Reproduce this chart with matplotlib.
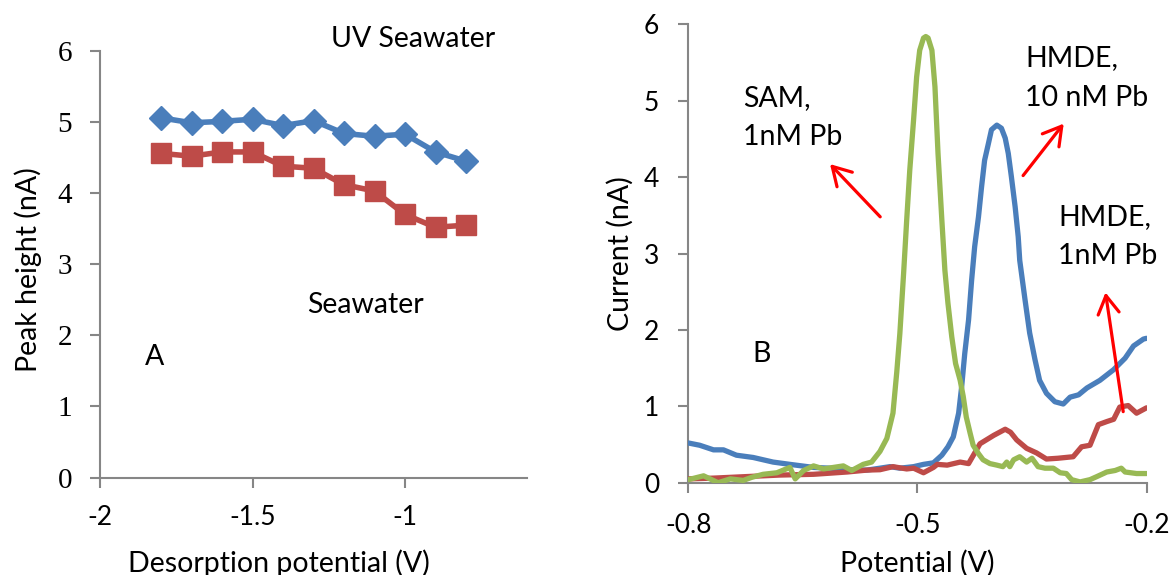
import matplotlib
matplotlib.use("Agg")
import matplotlib.pyplot as plt

# ---------------- Panel A data ----------------
desorption_v = [-1.8, -1.7, -1.6, -1.5, -1.4, -1.3, -1.2, -1.1, -1.0, -0.9, -0.8]
uv_seawater = [5.06, 4.99, 5.01, 5.04, 4.95, 5.02, 4.84, 4.80, 4.83, 4.58, 4.45]
seawater = [4.56, 4.52, 4.58, 4.58, 4.38, 4.35, 4.12, 4.03, 3.70, 3.52, 3.55]

# ---------------- Panel B data ----------------
hmde10_x = [-0.800, -0.785, -0.767, -0.754, -0.737, -0.715, -0.689, -0.667, -0.636, -0.614,
            -0.592, -0.566, -0.549, -0.536, -0.523, -0.505, -0.492, -0.479, -0.468, -0.460,
            -0.453, -0.446, -0.442, -0.438, -0.433, -0.429, -0.425, -0.420, -0.416, -0.412,
            -0.407, -0.403, -0.396, -0.390, -0.385, -0.381, -0.377, -0.372, -0.368, -0.366,
            -0.359, -0.353, -0.346, -0.340, -0.331, -0.320, -0.309, -0.300, -0.289, -0.278,
            -0.261, -0.243, -0.228, -0.217, -0.204, -0.200]
hmde10_y = [0.52, 0.49, 0.43, 0.43, 0.36, 0.33, 0.27, 0.24, 0.20, 0.19,
            0.17, 0.165, 0.19, 0.21, 0.19, 0.21, 0.24, 0.26, 0.36, 0.47,
            0.60, 0.91, 1.26, 1.69, 2.13, 2.65, 3.09, 3.48, 3.87, 4.22,
            4.44, 4.62, 4.68, 4.64, 4.51, 4.31, 4.01, 3.61, 3.22, 2.91,
            2.39, 1.96, 1.61, 1.34, 1.17, 1.06, 1.03, 1.12, 1.15, 1.24,
            1.34, 1.48, 1.63, 1.79, 1.88, 1.89]

hmde1_x = [-0.800, -0.767, -0.724, -0.680, -0.636, -0.592, -0.566, -0.549, -0.532, -0.514,
           -0.505, -0.492, -0.479, -0.474, -0.461, -0.444, -0.433, -0.418, -0.400, -0.385,
           -0.378, -0.370, -0.357, -0.344, -0.331, -0.316, -0.296, -0.285, -0.274, -0.263,
           -0.252, -0.243, -0.235, -0.224, -0.213, -0.200]
hmde1_y = [0.05, 0.06, 0.08, 0.10, 0.11, 0.14, 0.165, 0.17, 0.21, 0.18,
           0.19, 0.13, 0.20, 0.24, 0.23, 0.27, 0.25, 0.51, 0.62, 0.70,
           0.66, 0.56, 0.45, 0.39, 0.31, 0.32, 0.34, 0.47, 0.49, 0.76,
           0.80, 0.83, 0.99, 1.01, 0.91, 0.98]

sam1_x = [-0.800, -0.780, -0.761, -0.745, -0.728, -0.717, -0.702, -0.684, -0.667, -0.660,
          -0.649, -0.636, -0.623, -0.610, -0.597, -0.586, -0.571, -0.560, -0.549, -0.540,
          -0.532, -0.527, -0.523, -0.518, -0.514, -0.510, -0.505, -0.501, -0.497, -0.492,
          -0.489, -0.486, -0.481, -0.477, -0.473, -0.468, -0.464, -0.460, -0.455, -0.450,
          -0.444, -0.440, -0.436, -0.431, -0.427, -0.420, -0.414, -0.405, -0.396, -0.388,
          -0.383, -0.379, -0.374, -0.366, -0.357, -0.350, -0.342, -0.333, -0.322, -0.313,
          -0.305, -0.298, -0.287, -0.274, -0.265, -0.252, -0.241, -0.233, -0.228, -0.213,
          -0.200]
sam1_y = [0.04, 0.09, 0.00, 0.05, 0.03, 0.07, 0.11, 0.13, 0.20, 0.05,
          0.16, 0.22, 0.18, 0.20, 0.22, 0.16, 0.24, 0.27, 0.41, 0.58,
          0.91, 1.45, 1.95, 2.75, 3.44, 4.09, 4.75, 5.31, 5.66, 5.82,
          5.84, 5.82, 5.66, 5.18, 4.31, 3.44, 2.78, 2.35, 1.91, 1.56,
          1.34, 1.13, 0.86, 0.65, 0.49, 0.38, 0.30, 0.25, 0.23, 0.21,
          0.27, 0.21, 0.30, 0.34, 0.27, 0.32, 0.21, 0.19, 0.19, 0.13,
          0.12, 0.04, 0.01, 0.04, 0.08, 0.14, 0.16, 0.19, 0.14, 0.12,
          0.12]

BLUE = "#4A7EBB"
RED = "#BE4B48"
GREEN = "#98B954"
AXC = "#868686"
SANS = ["Lato", "DejaVu Sans"]
SERIF = ["Liberation Serif", "DejaVu Serif"]

plt.rcParams["font.family"] = SANS

fig = plt.figure(figsize=(11.73, 5.75), dpi=100)
W, H = 1173.0, 575.0
FS = 20.5

def style_axes(ax):
    for s in ["top", "right"]:
        ax.spines[s].set_visible(False)
    for s in ["left", "bottom"]:
        ax.spines[s].set_color(AXC)
        ax.spines[s].set_linewidth(1.5)
    ax.tick_params(axis="both", direction="out", length=7, width=1.5, color=AXC,
                   labelcolor="black")

# ---------------- Panel A ----------------
axA = fig.add_axes([100 / W, 1 - 477.5 / H, 427 / W, 426.5 / H])
style_axes(axA)
axA.plot(desorption_v, uv_seawater, color=BLUE, lw=4, marker="D", ms=12,
         solid_joinstyle="round", zorder=3)
axA.plot(desorption_v, seawater, color=RED, lw=4, marker="s", ms=14,
         solid_joinstyle="round", zorder=3)
axA.set_xlim(-2, -0.6)
axA.set_ylim(0, 6)
axA.set_xticks([-2, -1.5, -1])
axA.set_xticklabels(["-2", "-1.5", "-1"])
axA.set_yticks(range(0, 7))
axA.tick_params(axis="x", labelsize=19, pad=13)
axA.tick_params(axis="y", labelsize=21, pad=13)
for lab in axA.get_yticklabels():
    lab.set_family(SERIF)
axA.set_xlabel("Desorption potential (V)", fontsize=FS, va="center")
axA.xaxis.set_label_coords(0.419, -0.200)
axA.set_ylabel("Peak height (nA)", fontsize=FS, rotation=90, ha="center",
               va="center", rotation_mode="default")
axA.yaxis.set_label_coords(-0.169, 0.487)
axA.text(-1.244, 6.06, "UV Seawater", fontsize=FS, ha="left", va="baseline",
         clip_on=False)
axA.text(-1.322, 2.31, "Seawater", fontsize=FS, ha="left", va="baseline")
axA.text(-1.852, 1.58, "A", fontsize=FS, ha="left", va="baseline")

# ---------------- Panel B ----------------
axB = fig.add_axes([688.3 / W, 1 - 482.7 / H, 458.2 / W, 458.4 / H])
style_axes(axB)
axB.plot(hmde10_x, hmde10_y, color=BLUE, lw=3.8, solid_joinstyle="round",
         solid_capstyle="round", zorder=3)
axB.plot(hmde1_x, hmde1_y, color=RED, lw=3.8, solid_joinstyle="round",
         solid_capstyle="round", zorder=3)
axB.plot(sam1_x, sam1_y, color=GREEN, lw=3.8, solid_joinstyle="round",
         solid_capstyle="round", zorder=4)
axB.set_xlim(-0.8, -0.2)
axB.set_ylim(0, 6)
axB.set_xticks([-0.8, -0.5, -0.2])
axB.set_xticklabels(["-0.8", "-0.5", "-0.2"])
axB.set_yticks(range(0, 7))
axB.tick_params(axis="x", labelsize=19, pad=15)
axB.tick_params(axis="y", labelsize=19, pad=14)
axB.set_xlabel("Potential (V)", fontsize=FS, va="center")
axB.xaxis.set_label_coords(0.499, -0.175)
axB.set_ylabel("Current (nA)", fontsize=FS, rotation=90, ha="center",
               va="center", rotation_mode="default")
axB.yaxis.set_label_coords(-0.149, 0.50)

axB.text(-0.7157, 1.58, "B", fontsize=FS, ha="left", va="baseline")
axB.text(-0.728, 4.93, "SAM,", fontsize=FS, ha="left", va="baseline")
axB.text(-0.728, 4.42, "1nM Pb", fontsize=FS, ha="left", va="baseline")
axB.text(-0.3591, 5.45, "HMDE,", fontsize=FS, ha="left", va="baseline")
axB.text(-0.3591, 4.93, "10 nM Pb", fontsize=FS, ha="left", va="baseline")
axB.text(-0.3155, 3.37, "HMDE,", fontsize=FS, ha="left", va="baseline")
axB.text(-0.3155, 2.86, "1nM Pb", fontsize=FS, ha="left", va="baseline")

arrow_kw = dict(arrowstyle="->,head_length=0.65,head_width=0.38", color="red",
                lw=2.3, mutation_scale=20, shrinkA=0, shrinkB=0)
axB.annotate("", xy=(-0.6144, 4.17), xytext=(-0.5487, 3.48), arrowprops=arrow_kw)
axB.annotate("", xy=(-0.3084, 4.70), xytext=(-0.3616, 4.02), arrowprops=arrow_kw)
axB.annotate("", xy=(-0.2537, 2.49), xytext=(-0.2305, 0.93), arrowprops=arrow_kw)

fig.savefig("out.png", dpi=100)
